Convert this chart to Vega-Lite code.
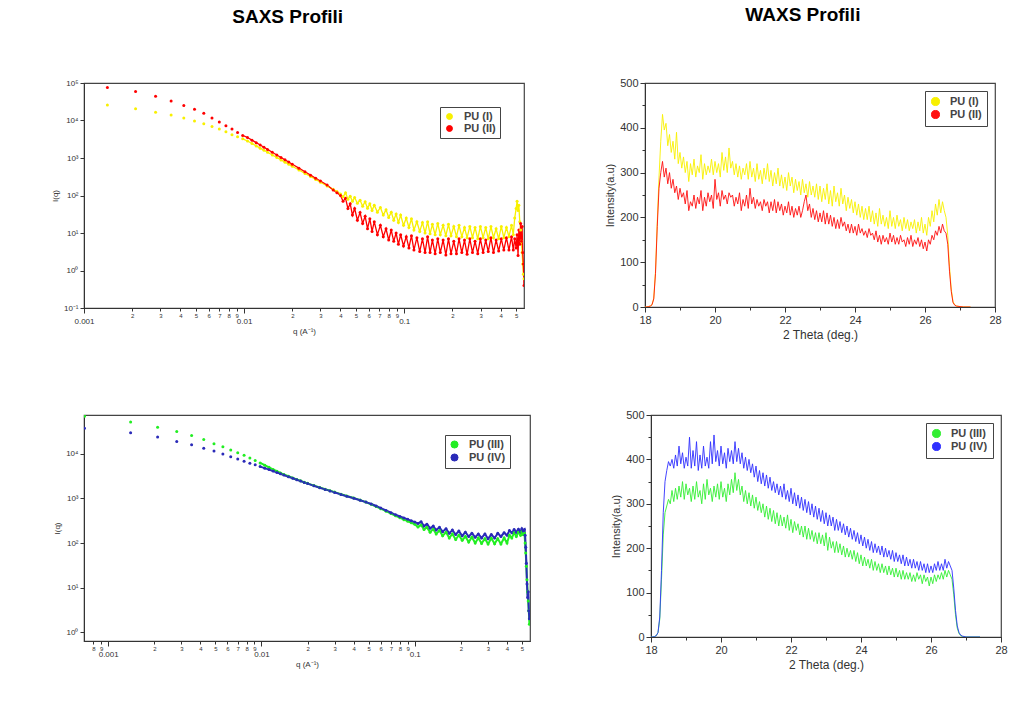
{
"$schema": "https://vega.github.io/schema/vega-lite/v6.json",
"padding": {"left": 50, "top": 5, "right": 5, "bottom": 5},
"background": "white",
"config": {"font": "Liberation Sans", "view": {"stroke": "#444", "strokeWidth": 1.2},
  "axis": {"grid": false, "domainColor": "#333", "tickColor": "#333", "labelColor": "#333", "titleColor": "#333", "titleFontWeight": "normal", "labelFont": "Liberation Sans", "titleFont": "Liberation Sans"},
  "legend": {"orient": "top-right", "strokeColor": "#444", "fillColor": "white", "padding": 4, "symbolType": "circle", "symbolSize": 45, "symbolStrokeWidth": 1, "labelFontSize": 11, "labelFontWeight": "bold", "labelFont": "Liberation Sans", "labelColor": "#444", "rowPadding": 0, "labelOffset": 9, "title": null}
},
"spacing": 67,
"resolve": {"scale": {"color": "independent"}, "legend": {"color": "independent"}},
"vconcat": [
{"hconcat": [
 {"width": 440, "height": 225,
  "title": {"text": "SAXS Profili", "fontSize": 19, "fontWeight": "bold", "font": "Liberation Sans", "anchor": "middle", "frame": "bounds", "offset": 52, "color": "black"},
  "data": {"values": [
   {"q":0.0014,"PU (I)":26000,"PU (II)":76000},{"q":0.0021,"PU (I)":20700,"PU (II)":59000},{"q":0.0028,"PU (I)":16500,"PU (II)":44000},{"q":0.0035,"PU (I)":14000,"PU (II)":33000},{"q":0.0042,"PU (I)":11600,"PU (II)":25000},{"q":0.0049,"PU (I)":9700,"PU (II)":20000},{"q":0.0056,"PU (I)":8200,"PU (II)":15600},{"q":0.0063,"PU (I)":6900,"PU (II)":11700},{"q":0.007,"PU (I)":5900,"PU (II)":9100},{"q":0.0077,"PU (I)":5000,"PU (II)":7300},{"q":0.0084,"PU (I)":4200,"PU (II)":5900},{"q":0.0091,"PU (I)":3700,"PU (II)":4800},{"q":0.0098,"PU (I)":3250,"PU (II)":4000},
   {"q":0.0105,"PU (I)":2845,"PU (II)":3530},{"q":0.0112,"PU (I)":2435,"PU (II)":2995},{"q":0.0119,"PU (I)":2105,"PU (II)":2566},{"q":0.0126,"PU (I)":1833,"PU (II)":2220},{"q":0.0133,"PU (I)":1610,"PU (II)":1934},{"q":0.014,"PU (I)":1422,"PU (II)":1696},{"q":0.015,"PU (I)":1205,"PU (II)":1422},{"q":0.016,"PU (I)":1031,"PU (II)":1206},{"q":0.017,"PU (I)":891,"PU (II)":1033},{"q":0.018,"PU (I)":776,"PU (II)":893},{"q":0.019,"PU (I)":681,"PU (II)":778},{"q":0.02,"PU (I)":602,"PU (II)":683},{"q":0.022,"PU (I)":479,"PU (II)":536},{"q":0.024,"PU (I)":388,"PU (II)":429},{"q":0.026,"PU (I)":320,"PU (II)":349},{"q":0.028,"PU (I)":268,"PU (II)":289},{"q":0.03,"PU (I)":226,"PU (II)":243},{"q":0.033,"PU (I)":180,"PU (II)":190},{"q":0.036,"PU (I)":146,"PU (II)":140},{"q":0.038,"PU (I)":128,"PU (II)":118},
   {"q":0.04,"PU (I)":110,"PU (II)":100},{"q":0.0415,"PU (I)":92,"PU (II)":70},{"q":0.043,"PU (I)":118,"PU (II)":85},{"q":0.0445,"PU (I)":80,"PU (II)":45},{"q":0.046,"PU (I)":95,"PU (II)":60},{"q":0.0475,"PU (I)":70,"PU (II)":30},{"q":0.049,"PU (I)":88,"PU (II)":45},{"q":0.051,"PU (I)":62,"PU (II)":22},{"q":0.053,"PU (I)":75,"PU (II)":35},{"q":0.055,"PU (I)":52,"PU (II)":18},{"q":0.057,"PU (I)":68,"PU (II)":28},{"q":0.059,"PU (I)":46,"PU (II)":13},{"q":0.061,"PU (I)":60,"PU (II)":24},{"q":0.063,"PU (I)":40,"PU (II)":11},{"q":0.065,"PU (I)":55,"PU (II)":20},{"q":0.068,"PU (I)":36,"PU (II)":9},{"q":0.071,"PU (I)":48,"PU (II)":16},{"q":0.074,"PU (I)":30,"PU (II)":8},{"q":0.077,"PU (I)":42,"PU (II)":13},{"q":0.08,"PU (I)":26,"PU (II)":6.5},{"q":0.083,"PU (I)":36,"PU (II)":12},{"q":0.086,"PU (I)":22,"PU (II)":6},{"q":0.089,"PU (I)":32,"PU (II)":10},{"q":0.092,"PU (I)":19,"PU (II)":5},{"q":0.095,"PU (I)":30,"PU (II)":9},{"q":0.099,"PU (I)":16,"PU (II)":4.5},{"q":0.103,"PU (I)":25,"PU (II)":8},{"q":0.107,"PU (I)":14,"PU (II)":4},{"q":0.111,"PU (I)":24,"PU (II)":8.5},{"q":0.115,"PU (I)":12,"PU (II)":3.5},{"q":0.12,"PU (I)":20,"PU (II)":7.5},{"q":0.125,"PU (I)":11,"PU (II)":3.2},{"q":0.13,"PU (I)":19,"PU (II)":7},{"q":0.135,"PU (I)":10,"PU (II)":3},{"q":0.14,"PU (I)":20,"PU (II)":8},{"q":0.145,"PU (I)":9.5,"PU (II)":3},{"q":0.15,"PU (I)":17,"PU (II)":6.5},{"q":0.156,"PU (I)":9,"PU (II)":2.8},{"q":0.162,"PU (I)":18,"PU (II)":7},{"q":0.168,"PU (I)":9,"PU (II)":3},{"q":0.175,"PU (I)":16,"PU (II)":6.5},{"q":0.182,"PU (I)":8.5,"PU (II)":2.6},{"q":0.189,"PU (I)":17,"PU (II)":7},{"q":0.196,"PU (I)":8.5,"PU (II)":2.8},{"q":0.204,"PU (I)":15,"PU (II)":6},{"q":0.212,"PU (I)":8,"PU (II)":2.8},{"q":0.22,"PU (I)":16,"PU (II)":7},{"q":0.229,"PU (I)":8,"PU (II)":3},{"q":0.238,"PU (I)":14,"PU (II)":6.5},{"q":0.247,"PU (I)":7.5,"PU (II)":2.7},{"q":0.257,"PU (I)":15,"PU (II)":7},{"q":0.267,"PU (I)":7.5,"PU (II)":3},{"q":0.277,"PU (I)":14,"PU (II)":6},{"q":0.288,"PU (I)":7,"PU (II)":2.8},{"q":0.299,"PU (I)":15,"PU (II)":7},{"q":0.311,"PU (I)":7.5,"PU (II)":3},{"q":0.323,"PU (I)":14,"PU (II)":6.5},{"q":0.335,"PU (I)":7,"PU (II)":3.2},{"q":0.348,"PU (I)":15,"PU (II)":7.5},{"q":0.361,"PU (I)":7.5,"PU (II)":3},{"q":0.375,"PU (I)":13,"PU (II)":6.5},{"q":0.389,"PU (I)":7,"PU (II)":3.3},{"q":0.404,"PU (I)":15,"PU (II)":7},{"q":0.419,"PU (I)":7.5,"PU (II)":3.5},{"q":0.435,"PU (I)":14,"PU (II)":7.5},{"q":0.451,"PU (I)":8,"PU (II)":3.5},{"q":0.468,"PU (I)":16,"PU (II)":8},{"q":0.48,"PU (I)":9,"PU (II)":3.5},{"q":0.49,"PU (I)":25,"PU (II)":7},{"q":0.5,"PU (I)":45,"PU (II)":4},{"q":0.507,"PU (I)":70,"PU (II)":9},{"q":0.514,"PU (I)":40,"PU (II)":2.5},{"q":0.52,"PU (I)":55,"PU (II)":12},{"q":0.527,"PU (I)":20,"PU (II)":5},{"q":0.534,"PU (I)":12,"PU (II)":18},{"q":0.54,"PU (I)":6,"PU (II)":6},{"q":0.545,"PU (I)":3,"PU (II)":15},{"q":0.55,"PU (I)":1.5,"PU (II)":3},{"q":0.555,"PU (I)":0.8,"PU (II)":1.5},{"q":0.56,"PU (I)":0.6,"PU (II)":0.4}
  ]},
  "transform": [{"fold": ["PU (I)", "PU (II)"], "as": ["series", "I"]}],
  "encoding": {
   "x": {"field": "q", "type": "quantitative", "scale": {"type": "log", "domain": [0.001, 0.56], "nice": false},
     "axis": {"title": "q (A⁻¹)", "titleFontSize": 8, "titlePadding": 2, "values": [0.001,0.002,0.003,0.004,0.005,0.006,0.007,0.008,0.009,0.01,0.02,0.03,0.04,0.05,0.06,0.07,0.08,0.09,0.1,0.2,0.3,0.4,0.5],
       "labelExpr": "datum.value==0.001?'0.001':datum.value==0.01?'0.01':datum.value==0.1?'0.1':format(datum.value/pow(10,floor(log(datum.value)/LN10+1e-9)),'d')",
       "labelFontSize": {"condition": {"test": "datum.value==0.001||datum.value==0.01||datum.value==0.1", "value": 8}, "value": 6},
       "labelPadding": {"condition": {"test": "datum.value==0.001||datum.value==0.01||datum.value==0.1", "value": 4}, "value": 1},
       "tickSize": {"condition": {"test": "datum.value==0.001||datum.value==0.01||datum.value==0.1", "value": 5}, "value": 3},
       "labelOverlap": false, "labelFlush": false, "labelBound": false}},
   "y": {"field": "I", "type": "quantitative", "scale": {"type": "log", "domain": [0.1, 100000], "nice": false},
     "axis": {"title": "I(q)", "titleFontSize": 8, "titlePadding": 4, "values": [0.1,1,10,100,1000,10000,100000], "labelFontSize": 8, "tickSize": 4, "labelOverlap": false,
       "labelExpr": "datum.value < 0.5 ? '10⁻¹' : datum.value < 5 ? '10⁰' : datum.value < 50 ? '10¹' : datum.value < 500 ? '10²' : datum.value < 5000 ? '10³' : datum.value < 50000 ? '10⁴' : '10⁵'"}},
   "color": {"field": "series", "type": "nominal", "scale": {"domain": ["PU (I)", "PU (II)"], "range": ["#f8f000", "#ff0000"]}, "legend": {"offset": 24, "symbolSize": 35}}
  },
  "layer": [
   {"transform": [{"filter": "datum.q >= 0.0098"}], "mark": {"type": "line", "strokeWidth": 1.3, "clip": true}},
   {"mark": {"type": "point", "filled": true, "size": 9, "opacity": 1, "clip": true}}
  ]
 },
 {"width": 350, "height": 224,
  "title": {"text": "WAXS Profili", "fontSize": 19, "fontWeight": "bold", "font": "Liberation Sans", "anchor": "middle", "frame": "bounds", "offset": 52, "color": "black"},
  "data": {"values": [
   {"t":18.0,"PU (I)":0,"PU (II)":0},{"t":18.05,"PU (I)":0,"PU (II)":0},{"t":18.1,"PU (I)":1,"PU (II)":1},{"t":18.15,"PU (I)":2,"PU (II)":2},{"t":18.2,"PU (I)":5,"PU (II)":5},{"t":18.25,"PU (I)":20,"PU (II)":18},{"t":18.3,"PU (I)":80,"PU (II)":75},{"t":18.35,"PU (I)":190,"PU (II)":180},{"t":18.4,"PU (I)":290,"PU (II)":265},{"t":18.45,"PU (I)":370,"PU (II)":300},{"t":18.5,"PU (I)":430,"PU (II)":325},{"t":18.55,"PU (I)":395,"PU (II)":290},{"t":18.6,"PU (I)":410,"PU (II)":310},{"t":18.65,"PU (I)":360,"PU (II)":275},{"t":18.7,"PU (I)":385,"PU (II)":300},{"t":18.75,"PU (I)":345,"PU (II)":265},{"t":18.8,"PU (I)":370,"PU (II)":285},{"t":18.85,"PU (I)":330,"PU (II)":255},{"t":18.9,"PU (I)":390,"PU (II)":270},{"t":18.95,"PU (I)":320,"PU (II)":240},
   {"t":19.0,"PU (I)":345,"PU (II)":265},{"t":19.05,"PU (I)":310,"PU (II)":245},{"t":19.1,"PU (I)":335,"PU (II)":255},{"t":19.15,"PU (I)":300,"PU (II)":230},{"t":19.2,"PU (I)":325,"PU (II)":260},{"t":19.25,"PU (I)":280,"PU (II)":215},{"t":19.3,"PU (I)":320,"PU (II)":235},{"t":19.35,"PU (I)":295,"PU (II)":225},{"t":19.4,"PU (I)":330,"PU (II)":250},{"t":19.45,"PU (I)":290,"PU (II)":220},{"t":19.5,"PU (I)":315,"PU (II)":245},{"t":19.55,"PU (I)":300,"PU (II)":230},{"t":19.6,"PU (I)":340,"PU (II)":260},{"t":19.65,"PU (I)":285,"PU (II)":215},{"t":19.7,"PU (I)":320,"PU (II)":245},{"t":19.75,"PU (I)":295,"PU (II)":225},{"t":19.8,"PU (I)":315,"PU (II)":255},{"t":19.85,"PU (I)":300,"PU (II)":235},{"t":19.9,"PU (I)":330,"PU (II)":250},{"t":19.95,"PU (I)":295,"PU (II)":220},
   {"t":20.0,"PU (I)":325,"PU (II)":285},{"t":20.05,"PU (I)":300,"PU (II)":240},{"t":20.1,"PU (I)":320,"PU (II)":255},{"t":20.15,"PU (I)":290,"PU (II)":225},{"t":20.2,"PU (I)":345,"PU (II)":260},{"t":20.25,"PU (I)":305,"PU (II)":240},{"t":20.3,"PU (I)":335,"PU (II)":250},{"t":20.35,"PU (I)":300,"PU (II)":230},{"t":20.4,"PU (I)":355,"PU (II)":255},{"t":20.45,"PU (I)":310,"PU (II)":245},{"t":20.5,"PU (I)":325,"PU (II)":250},{"t":20.55,"PU (I)":295,"PU (II)":225},{"t":20.6,"PU (I)":320,"PU (II)":245},{"t":20.65,"PU (I)":290,"PU (II)":230},{"t":20.7,"PU (I)":315,"PU (II)":255},{"t":20.75,"PU (I)":285,"PU (II)":215},{"t":20.8,"PU (I)":310,"PU (II)":240},{"t":20.85,"PU (I)":295,"PU (II)":225},{"t":20.9,"PU (I)":320,"PU (II)":250},{"t":20.95,"PU (I)":285,"PU (II)":220},
   {"t":21.0,"PU (I)":325,"PU (II)":265},{"t":21.05,"PU (I)":290,"PU (II)":230},{"t":21.1,"PU (I)":310,"PU (II)":245},{"t":21.15,"PU (I)":280,"PU (II)":220},{"t":21.2,"PU (I)":320,"PU (II)":240},{"t":21.25,"PU (I)":285,"PU (II)":225},{"t":21.3,"PU (I)":305,"PU (II)":235},{"t":21.35,"PU (I)":275,"PU (II)":215},{"t":21.4,"PU (I)":310,"PU (II)":240},{"t":21.45,"PU (I)":285,"PU (II)":225},{"t":21.5,"PU (I)":320,"PU (II)":235},{"t":21.55,"PU (I)":280,"PU (II)":210},{"t":21.6,"PU (I)":305,"PU (II)":235},{"t":21.65,"PU (I)":270,"PU (II)":215},{"t":21.7,"PU (I)":300,"PU (II)":240},{"t":21.75,"PU (I)":275,"PU (II)":210},{"t":21.8,"PU (I)":310,"PU (II)":235},{"t":21.85,"PU (I)":270,"PU (II)":215},{"t":21.9,"PU (I)":295,"PU (II)":230},{"t":21.95,"PU (I)":265,"PU (II)":205},
   {"t":22.0,"PU (I)":290,"PU (II)":225},{"t":22.05,"PU (I)":260,"PU (II)":210},{"t":22.1,"PU (I)":300,"PU (II)":235},{"t":22.15,"PU (I)":270,"PU (II)":205},{"t":22.2,"PU (I)":290,"PU (II)":225},{"t":22.25,"PU (I)":255,"PU (II)":200},{"t":22.3,"PU (I)":285,"PU (II)":220},{"t":22.35,"PU (I)":260,"PU (II)":205},{"t":22.4,"PU (I)":280,"PU (II)":225},{"t":22.45,"PU (I)":250,"PU (II)":200},{"t":22.5,"PU (I)":285,"PU (II)":215},{"t":22.55,"PU (I)":255,"PU (II)":235},{"t":22.6,"PU (I)":275,"PU (II)":250},{"t":22.65,"PU (I)":245,"PU (II)":215},{"t":22.7,"PU (I)":280,"PU (II)":230},{"t":22.75,"PU (I)":250,"PU (II)":200},{"t":22.8,"PU (I)":270,"PU (II)":220},{"t":22.85,"PU (I)":245,"PU (II)":195},{"t":22.9,"PU (I)":275,"PU (II)":215},{"t":22.95,"PU (I)":240,"PU (II)":190},
   {"t":23.0,"PU (I)":270,"PU (II)":210},{"t":23.05,"PU (I)":235,"PU (II)":190},{"t":23.1,"PU (I)":265,"PU (II)":215},{"t":23.15,"PU (I)":240,"PU (II)":185},{"t":23.2,"PU (I)":275,"PU (II)":210},{"t":23.25,"PU (I)":230,"PU (II)":185},{"t":23.3,"PU (I)":260,"PU (II)":205},{"t":23.35,"PU (I)":225,"PU (II)":180},{"t":23.4,"PU (I)":270,"PU (II)":200},{"t":23.45,"PU (I)":235,"PU (II)":175},{"t":23.5,"PU (I)":255,"PU (II)":195},{"t":23.55,"PU (I)":225,"PU (II)":175},{"t":23.6,"PU (I)":265,"PU (II)":200},{"t":23.65,"PU (I)":230,"PU (II)":180},{"t":23.7,"PU (I)":250,"PU (II)":190},{"t":23.75,"PU (I)":215,"PU (II)":170},{"t":23.8,"PU (I)":245,"PU (II)":185},{"t":23.85,"PU (I)":220,"PU (II)":165},{"t":23.9,"PU (I)":240,"PU (II)":185},{"t":23.95,"PU (I)":210,"PU (II)":165},
   {"t":24.0,"PU (I)":235,"PU (II)":180},{"t":24.05,"PU (I)":205,"PU (II)":160},{"t":24.1,"PU (I)":230,"PU (II)":185},{"t":24.15,"PU (I)":200,"PU (II)":165},{"t":24.2,"PU (I)":225,"PU (II)":175},{"t":24.25,"PU (I)":195,"PU (II)":160},{"t":24.3,"PU (I)":220,"PU (II)":170},{"t":24.35,"PU (I)":195,"PU (II)":155},{"t":24.4,"PU (I)":225,"PU (II)":175},{"t":24.45,"PU (I)":190,"PU (II)":160},{"t":24.5,"PU (I)":215,"PU (II)":165},{"t":24.55,"PU (I)":185,"PU (II)":150},{"t":24.6,"PU (I)":210,"PU (II)":170},{"t":24.65,"PU (I)":180,"PU (II)":145},{"t":24.7,"PU (I)":220,"PU (II)":160},{"t":24.75,"PU (I)":185,"PU (II)":140},{"t":24.8,"PU (I)":205,"PU (II)":160},{"t":24.85,"PU (I)":180,"PU (II)":145},{"t":24.9,"PU (I)":200,"PU (II)":155},{"t":24.95,"PU (I)":175,"PU (II)":140},
   {"t":25.0,"PU (I)":215,"PU (II)":165},{"t":25.05,"PU (I)":180,"PU (II)":145},{"t":25.1,"PU (I)":200,"PU (II)":160},{"t":25.15,"PU (I)":175,"PU (II)":140},{"t":25.2,"PU (I)":205,"PU (II)":155},{"t":25.25,"PU (I)":180,"PU (II)":140},{"t":25.3,"PU (I)":195,"PU (II)":160},{"t":25.35,"PU (I)":170,"PU (II)":145},{"t":25.4,"PU (I)":200,"PU (II)":150},{"t":25.45,"PU (I)":175,"PU (II)":135},{"t":25.5,"PU (I)":195,"PU (II)":155},{"t":25.55,"PU (I)":170,"PU (II)":140},{"t":25.6,"PU (I)":190,"PU (II)":160},{"t":25.65,"PU (I)":175,"PU (II)":135},{"t":25.7,"PU (I)":195,"PU (II)":150},{"t":25.75,"PU (I)":165,"PU (II)":140},{"t":25.8,"PU (I)":190,"PU (II)":155},{"t":25.85,"PU (I)":170,"PU (II)":135},{"t":25.9,"PU (I)":200,"PU (II)":150},{"t":25.95,"PU (I)":165,"PU (II)":130},
   {"t":26.0,"PU (I)":185,"PU (II)":145},{"t":26.05,"PU (I)":160,"PU (II)":125},{"t":26.1,"PU (I)":200,"PU (II)":150},{"t":26.15,"PU (I)":180,"PU (II)":140},{"t":26.2,"PU (I)":215,"PU (II)":160},{"t":26.25,"PU (I)":190,"PU (II)":150},{"t":26.3,"PU (I)":230,"PU (II)":170},{"t":26.35,"PU (I)":205,"PU (II)":160},{"t":26.4,"PU (I)":240,"PU (II)":180},{"t":26.45,"PU (I)":210,"PU (II)":165},{"t":26.5,"PU (I)":235,"PU (II)":185},{"t":26.55,"PU (I)":215,"PU (II)":170},{"t":26.6,"PU (I)":200,"PU (II)":165},{"t":26.65,"PU (I)":160,"PU (II)":140},{"t":26.7,"PU (I)":90,"PU (II)":80},{"t":26.75,"PU (I)":40,"PU (II)":35},{"t":26.8,"PU (I)":12,"PU (II)":10},{"t":26.85,"PU (I)":5,"PU (II)":4},{"t":26.9,"PU (I)":2,"PU (II)":2},{"t":27.0,"PU (I)":1,"PU (II)":1},{"t":27.1,"PU (I)":0,"PU (II)":0},{"t":27.3,"PU (I)":0,"PU (II)":0}
  ]},
  "transform": [{"fold": ["PU (I)", "PU (II)"], "as": ["series", "I"]}],
  "encoding": {
   "x": {"field": "t", "type": "quantitative", "scale": {"domain": [18, 28], "nice": false},
     "axis": {"title": "2 Theta (deg.)", "titleFontSize": 12, "titlePadding": 4, "labelFontSize": 11, "labelPadding": 2, "values": [18,19,20,21,22,23,24,25,26,27,28],
       "labelExpr": "datum.value % 2 == 0 ? datum.value : ''", "tickSize": {"condition": {"test": "datum.value % 2 == 0", "value": 5}, "value": 3}, "labelOverlap": false, "labelFlush": false}},
   "y": {"field": "I", "type": "quantitative", "scale": {"domain": [0, 500], "nice": false},
     "axis": {"title": "Intensity(a.u)", "titleFontSize": 11, "titlePadding": 4, "labelFontSize": 11, "labelPadding": 2, "values": [0,50,100,150,200,250,300,350,400,450,500],
       "labelExpr": "datum.value % 100 == 0 ? datum.value : ''", "tickSize": {"condition": {"test": "datum.value % 100 == 0", "value": 5}, "value": 3}, "labelOverlap": false}},
   "color": {"field": "series", "type": "nominal", "scale": {"domain": ["PU (I)", "PU (II)"], "range": ["#f8f000", "#ff1010"]}, "legend": {"offset": 8, "symbolSize": 65, "padding": 5}}
  },
  "layer": [
   {"mark": {"type": "line", "strokeWidth": 0.9, "clip": true}},
   {"mark": {"type": "point", "filled": true, "size": 0, "opacity": 1, "clip": true}}
  ]
 }
], "spacing": 79, "resolve": {"scale": {"color": "independent"}, "legend": {"color": "independent"}}},
{"hconcat": [
 {"width": 446, "height": 226,
  "data": {"values": [
   {"q":0.0007,"PU (III)":70000,"PU (IV)":38000},{"q":0.0014,"PU (III)":52000,"PU (IV)":30000},{"q":0.0021,"PU (III)":40000,"PU (IV)":24000},{"q":0.0028,"PU (III)":32000,"PU (IV)":19000},{"q":0.0035,"PU (III)":26000,"PU (IV)":16000},{"q":0.0042,"PU (III)":21000,"PU (IV)":13400},{"q":0.0049,"PU (III)":17000,"PU (IV)":11700},{"q":0.0056,"PU (III)":14600,"PU (IV)":10000},{"q":0.0063,"PU (III)":12300,"PU (IV)":8700},{"q":0.007,"PU (III)":10700,"PU (IV)":7700},{"q":0.0077,"PU (III)":9300,"PU (IV)":6900},{"q":0.0084,"PU (III)":8100,"PU (IV)":6200},{"q":0.0091,"PU (III)":7100,"PU (IV)":5700},{"q":0.0098,"PU (III)":6300,"PU (IV)":5200},
   {"q":0.0105,"PU (III)":5600,"PU (IV)":4800},{"q":0.0112,"PU (III)":5000,"PU (IV)":4450},{"q":0.0119,"PU (III)":4500,"PU (IV)":4150},{"q":0.0126,"PU (III)":4100,"PU (IV)":3850},{"q":0.0133,"PU (III)":3750,"PU (IV)":3600},{"q":0.014,"PU (III)":3450,"PU (IV)":3350},{"q":0.015,"PU (III)":3150,"PU (IV)":3080},{"q":0.016,"PU (III)":2900,"PU (IV)":2850},{"q":0.017,"PU (III)":2680,"PU (IV)":2640},{"q":0.018,"PU (III)":2490,"PU (IV)":2460},{"q":0.019,"PU (III)":2330,"PU (IV)":2300},{"q":0.02,"PU (III)":2190,"PU (IV)":2160},{"q":0.022,"PU (III)":1950,"PU (IV)":1920},{"q":0.024,"PU (III)":1760,"PU (IV)":1740},{"q":0.026,"PU (III)":1620,"PU (IV)":1600},{"q":0.028,"PU (III)":1500,"PU (IV)":1480},{"q":0.03,"PU (III)":1390,"PU (IV)":1370},{"q":0.033,"PU (III)":1250,"PU (IV)":1230},{"q":0.036,"PU (III)":1140,"PU (IV)":1120},{"q":0.04,"PU (III)":1030,"PU (IV)":1010},{"q":0.044,"PU (III)":920,"PU (IV)":910},{"q":0.048,"PU (III)":830,"PU (IV)":830},{"q":0.052,"PU (III)":740,"PU (IV)":750},{"q":0.056,"PU (III)":660,"PU (IV)":680},{"q":0.06,"PU (III)":590,"PU (IV)":610},{"q":0.065,"PU (III)":520,"PU (IV)":540},{"q":0.07,"PU (III)":460,"PU (IV)":480},{"q":0.075,"PU (III)":410,"PU (IV)":430},{"q":0.08,"PU (III)":370,"PU (IV)":395},{"q":0.085,"PU (III)":335,"PU (IV)":365},{"q":0.09,"PU (III)":310,"PU (IV)":340},{"q":0.095,"PU (III)":285,"PU (IV)":315},{"q":0.1,"PU (III)":265,"PU (IV)":295},
   {"q":0.105,"PU (III)":230,"PU (IV)":275},{"q":0.11,"PU (III)":255,"PU (IV)":300},{"q":0.115,"PU (III)":200,"PU (IV)":240},{"q":0.12,"PU (III)":225,"PU (IV)":265},{"q":0.126,"PU (III)":175,"PU (IV)":215},{"q":0.132,"PU (III)":205,"PU (IV)":240},{"q":0.138,"PU (III)":160,"PU (IV)":195},{"q":0.145,"PU (III)":190,"PU (IV)":225},{"q":0.152,"PU (III)":145,"PU (IV)":180},{"q":0.16,"PU (III)":175,"PU (IV)":210},{"q":0.168,"PU (III)":130,"PU (IV)":165},{"q":0.176,"PU (III)":160,"PU (IV)":195},{"q":0.185,"PU (III)":120,"PU (IV)":155},{"q":0.194,"PU (III)":150,"PU (IV)":185},{"q":0.204,"PU (III)":115,"PU (IV)":145},{"q":0.214,"PU (III)":140,"PU (IV)":175},{"q":0.225,"PU (III)":105,"PU (IV)":140},{"q":0.236,"PU (III)":135,"PU (IV)":165},{"q":0.248,"PU (III)":100,"PU (IV)":135},{"q":0.26,"PU (III)":130,"PU (IV)":160},{"q":0.273,"PU (III)":98,"PU (IV)":130},{"q":0.287,"PU (III)":125,"PU (IV)":160},{"q":0.301,"PU (III)":95,"PU (IV)":125},{"q":0.316,"PU (III)":128,"PU (IV)":155},{"q":0.332,"PU (III)":96,"PU (IV)":130},{"q":0.348,"PU (III)":125,"PU (IV)":165},{"q":0.365,"PU (III)":95,"PU (IV)":140},{"q":0.383,"PU (III)":130,"PU (IV)":170},{"q":0.4,"PU (III)":100,"PU (IV)":150},{"q":0.415,"PU (III)":150,"PU (IV)":190},{"q":0.43,"PU (III)":130,"PU (IV)":170},{"q":0.445,"PU (III)":170,"PU (IV)":200},{"q":0.46,"PU (III)":140,"PU (IV)":175},{"q":0.475,"PU (III)":175,"PU (IV)":205},{"q":0.49,"PU (III)":150,"PU (IV)":180},{"q":0.5,"PU (III)":180,"PU (IV)":210},{"q":0.51,"PU (III)":155,"PU (IV)":185},{"q":0.52,"PU (III)":165,"PU (IV)":200},{"q":0.525,"PU (III)":100,"PU (IV)":150},{"q":0.53,"PU (III)":60,"PU (IV)":80},{"q":0.535,"PU (III)":30,"PU (IV)":35},{"q":0.54,"PU (III)":15,"PU (IV)":12},{"q":0.545,"PU (III)":8,"PU (IV)":6},{"q":0.55,"PU (III)":5,"PU (IV)":8},{"q":0.555,"PU (III)":3,"PU (IV)":3},{"q":0.56,"PU (III)":1.5,"PU (IV)":2}
  ]},
  "transform": [{"fold": ["PU (III)", "PU (IV)"], "as": ["series", "I"]}],
  "encoding": {
   "x": {"field": "q", "type": "quantitative", "scale": {"type": "log", "domain": [0.000695, 0.565], "nice": false},
     "axis": {"title": "q (A⁻¹)", "titleFontSize": 8, "titlePadding": 2, "values": [0.0008,0.0009,0.001,0.002,0.003,0.004,0.005,0.006,0.007,0.008,0.009,0.01,0.02,0.03,0.04,0.05,0.06,0.07,0.08,0.09,0.1,0.2,0.3,0.4,0.5],
       "labelExpr": "datum.value==0.001?'0.001':datum.value==0.01?'0.01':datum.value==0.1?'0.1':format(datum.value/pow(10,floor(log(datum.value)/LN10+1e-9)),'d')",
       "labelFontSize": {"condition": {"test": "datum.value==0.001||datum.value==0.01||datum.value==0.1", "value": 8}, "value": 6},
       "labelPadding": {"condition": {"test": "datum.value==0.001||datum.value==0.01||datum.value==0.1", "value": 4}, "value": 1},
       "tickSize": {"condition": {"test": "datum.value==0.001||datum.value==0.01||datum.value==0.1", "value": 5}, "value": 3},
       "labelOverlap": false, "labelFlush": false, "labelBound": false}},
   "y": {"field": "I", "type": "quantitative", "scale": {"type": "log", "domain": [0.63, 75000], "nice": false},
     "axis": {"title": "I(q)", "titleFontSize": 8, "titlePadding": 4, "values": [1,10,100,1000,10000], "labelFontSize": 8, "tickSize": 4, "labelOverlap": false,
       "labelExpr": "datum.value < 5 ? '10⁰' : datum.value < 50 ? '10¹' : datum.value < 500 ? '10²' : datum.value < 5000 ? '10³' : '10⁴'"}},
   "color": {"field": "series", "type": "nominal", "scale": {"domain": ["PU (III)", "PU (IV)"], "range": ["#22ee22", "#2a2ab8"]}, "legend": {"offset": 20, "symbolSize": 50}}
  },
  "layer": [
   {"transform": [{"filter": "datum.q >= 0.0098"}], "mark": {"type": "line", "strokeWidth": 2, "clip": true}},
   {"mark": {"type": "point", "filled": true, "size": 9, "opacity": 1, "clip": true}}
  ]
 },
 {"width": 350, "height": 222,
  "data": {"values": [
   {"t":18.0,"PU (III)":0,"PU (IV)":0},{"t":18.05,"PU (III)":0,"PU (IV)":0},{"t":18.1,"PU (III)":1,"PU (IV)":1},{"t":18.15,"PU (III)":3,"PU (IV)":3},{"t":18.2,"PU (III)":10,"PU (IV)":10},{"t":18.25,"PU (III)":40,"PU (IV)":45},{"t":18.3,"PU (III)":130,"PU (IV)":150},{"t":18.35,"PU (III)":230,"PU (IV)":280},{"t":18.4,"PU (III)":280,"PU (IV)":350},{"t":18.45,"PU (III)":295,"PU (IV)":375},{"t":18.5,"PU (III)":310,"PU (IV)":395},{"t":18.55,"PU (III)":300,"PU (IV)":385},{"t":18.6,"PU (III)":330,"PU (IV)":400},{"t":18.65,"PU (III)":305,"PU (IV)":380},{"t":18.7,"PU (III)":335,"PU (IV)":410},{"t":18.75,"PU (III)":310,"PU (IV)":385},{"t":18.8,"PU (III)":340,"PU (IV)":430},{"t":18.85,"PU (III)":315,"PU (IV)":390},{"t":18.9,"PU (III)":350,"PU (IV)":415},{"t":18.95,"PU (III)":310,"PU (IV)":380},
   {"t":19.0,"PU (III)":345,"PU (IV)":405},{"t":19.05,"PU (III)":320,"PU (IV)":385},{"t":19.1,"PU (III)":335,"PU (IV)":450},{"t":19.15,"PU (III)":305,"PU (IV)":380},{"t":19.2,"PU (III)":340,"PU (IV)":420},{"t":19.25,"PU (III)":310,"PU (IV)":385},{"t":19.3,"PU (III)":350,"PU (IV)":440},{"t":19.35,"PU (III)":315,"PU (IV)":375},{"t":19.4,"PU (III)":330,"PU (IV)":410},{"t":19.45,"PU (III)":300,"PU (IV)":380},{"t":19.5,"PU (III)":345,"PU (IV)":430},{"t":19.55,"PU (III)":310,"PU (IV)":385},{"t":19.6,"PU (III)":355,"PU (IV)":405},{"t":19.65,"PU (III)":320,"PU (IV)":380},{"t":19.7,"PU (III)":335,"PU (IV)":440},{"t":19.75,"PU (III)":305,"PU (IV)":390},{"t":19.8,"PU (III)":340,"PU (IV)":455},{"t":19.85,"PU (III)":315,"PU (IV)":395},{"t":19.9,"PU (III)":345,"PU (IV)":420},{"t":19.95,"PU (III)":310,"PU (IV)":385},
   {"t":20.0,"PU (III)":350,"PU (IV)":430},{"t":20.05,"PU (III)":315,"PU (IV)":390},{"t":20.1,"PU (III)":335,"PU (IV)":415},{"t":20.15,"PU (III)":305,"PU (IV)":380},{"t":20.2,"PU (III)":345,"PU (IV)":425},{"t":20.25,"PU (III)":320,"PU (IV)":395},{"t":20.3,"PU (III)":355,"PU (IV)":420},{"t":20.35,"PU (III)":325,"PU (IV)":390},{"t":20.4,"PU (III)":370,"PU (IV)":440},{"t":20.45,"PU (III)":330,"PU (IV)":395},{"t":20.5,"PU (III)":355,"PU (IV)":425},{"t":20.55,"PU (III)":320,"PU (IV)":390},{"t":20.6,"PU (III)":340,"PU (IV)":415},{"t":20.65,"PU (III)":305,"PU (IV)":380},{"t":20.7,"PU (III)":330,"PU (IV)":405},{"t":20.75,"PU (III)":300,"PU (IV)":375},{"t":20.8,"PU (III)":325,"PU (IV)":400},{"t":20.85,"PU (III)":295,"PU (IV)":370},{"t":20.9,"PU (III)":320,"PU (IV)":390},{"t":20.95,"PU (III)":290,"PU (IV)":360},
   {"t":21.0,"PU (III)":315,"PU (IV)":385},{"t":21.05,"PU (III)":285,"PU (IV)":350},{"t":21.1,"PU (III)":305,"PU (IV)":375},{"t":21.15,"PU (III)":280,"PU (IV)":345},{"t":21.2,"PU (III)":300,"PU (IV)":370},{"t":21.25,"PU (III)":270,"PU (IV)":340},{"t":21.3,"PU (III)":295,"PU (IV)":365},{"t":21.35,"PU (III)":265,"PU (IV)":335},{"t":21.4,"PU (III)":290,"PU (IV)":360},{"t":21.45,"PU (III)":260,"PU (IV)":330},{"t":21.5,"PU (III)":285,"PU (IV)":350},{"t":21.55,"PU (III)":255,"PU (IV)":325},{"t":21.6,"PU (III)":280,"PU (IV)":345},{"t":21.65,"PU (III)":250,"PU (IV)":320},{"t":21.7,"PU (III)":275,"PU (IV)":340},{"t":21.75,"PU (III)":250,"PU (IV)":315},{"t":21.8,"PU (III)":270,"PU (IV)":345},{"t":21.85,"PU (III)":245,"PU (IV)":310},{"t":21.9,"PU (III)":275,"PU (IV)":330},{"t":21.95,"PU (III)":240,"PU (IV)":305},
   {"t":22.0,"PU (III)":265,"PU (IV)":335},{"t":22.05,"PU (III)":235,"PU (IV)":300},{"t":22.1,"PU (III)":260,"PU (IV)":325},{"t":22.15,"PU (III)":240,"PU (IV)":295},{"t":22.2,"PU (III)":255,"PU (IV)":320},{"t":22.25,"PU (III)":230,"PU (IV)":290},{"t":22.3,"PU (III)":250,"PU (IV)":315},{"t":22.35,"PU (III)":225,"PU (IV)":285},{"t":22.4,"PU (III)":250,"PU (IV)":310},{"t":22.45,"PU (III)":220,"PU (IV)":280},{"t":22.5,"PU (III)":245,"PU (IV)":305},{"t":22.55,"PU (III)":220,"PU (IV)":275},{"t":22.6,"PU (III)":240,"PU (IV)":300},{"t":22.65,"PU (III)":215,"PU (IV)":270},{"t":22.7,"PU (III)":235,"PU (IV)":295},{"t":22.75,"PU (III)":210,"PU (IV)":265},{"t":22.8,"PU (III)":235,"PU (IV)":290},{"t":22.85,"PU (III)":210,"PU (IV)":260},{"t":22.9,"PU (III)":230,"PU (IV)":285},{"t":22.95,"PU (III)":205,"PU (IV)":255},
   {"t":23.0,"PU (III)":235,"PU (IV)":280},{"t":23.05,"PU (III)":195,"PU (IV)":250},{"t":23.1,"PU (III)":225,"PU (IV)":275},{"t":23.15,"PU (III)":200,"PU (IV)":250},{"t":23.2,"PU (III)":215,"PU (IV)":270},{"t":23.25,"PU (III)":190,"PU (IV)":240},{"t":23.3,"PU (III)":215,"PU (IV)":265},{"t":23.35,"PU (III)":190,"PU (IV)":240},{"t":23.4,"PU (III)":210,"PU (IV)":260},{"t":23.45,"PU (III)":185,"PU (IV)":235},{"t":23.5,"PU (III)":205,"PU (IV)":255},{"t":23.55,"PU (III)":180,"PU (IV)":230},{"t":23.6,"PU (III)":200,"PU (IV)":250},{"t":23.65,"PU (III)":180,"PU (IV)":225},{"t":23.7,"PU (III)":195,"PU (IV)":245},{"t":23.75,"PU (III)":175,"PU (IV)":220},{"t":23.8,"PU (III)":195,"PU (IV)":240},{"t":23.85,"PU (III)":170,"PU (IV)":215},{"t":23.9,"PU (III)":190,"PU (IV)":235},{"t":23.95,"PU (III)":165,"PU (IV)":210},
   {"t":24.0,"PU (III)":185,"PU (IV)":230},{"t":24.05,"PU (III)":160,"PU (IV)":205},{"t":24.1,"PU (III)":180,"PU (IV)":225},{"t":24.15,"PU (III)":160,"PU (IV)":200},{"t":24.2,"PU (III)":175,"PU (IV)":220},{"t":24.25,"PU (III)":155,"PU (IV)":195},{"t":24.3,"PU (III)":175,"PU (IV)":215},{"t":24.35,"PU (III)":150,"PU (IV)":190},{"t":24.4,"PU (III)":170,"PU (IV)":210},{"t":24.45,"PU (III)":150,"PU (IV)":190},{"t":24.5,"PU (III)":165,"PU (IV)":205},{"t":24.55,"PU (III)":145,"PU (IV)":185},{"t":24.6,"PU (III)":165,"PU (IV)":205},{"t":24.65,"PU (III)":145,"PU (IV)":180},{"t":24.7,"PU (III)":160,"PU (IV)":200},{"t":24.75,"PU (III)":140,"PU (IV)":180},{"t":24.8,"PU (III)":160,"PU (IV)":195},{"t":24.85,"PU (III)":140,"PU (IV)":175},{"t":24.9,"PU (III)":155,"PU (IV)":195},{"t":24.95,"PU (III)":135,"PU (IV)":170},
   {"t":25.0,"PU (III)":155,"PU (IV)":190},{"t":25.05,"PU (III)":135,"PU (IV)":170},{"t":25.1,"PU (III)":150,"PU (IV)":185},{"t":25.15,"PU (III)":130,"PU (IV)":165},{"t":25.2,"PU (III)":150,"PU (IV)":185},{"t":25.25,"PU (III)":130,"PU (IV)":160},{"t":25.3,"PU (III)":145,"PU (IV)":180},{"t":25.35,"PU (III)":130,"PU (IV)":160},{"t":25.4,"PU (III)":145,"PU (IV)":175},{"t":25.45,"PU (III)":125,"PU (IV)":155},{"t":25.5,"PU (III)":140,"PU (IV)":175},{"t":25.55,"PU (III)":125,"PU (IV)":155},{"t":25.6,"PU (III)":145,"PU (IV)":170},{"t":25.65,"PU (III)":130,"PU (IV)":150},{"t":25.7,"PU (III)":140,"PU (IV)":170},{"t":25.75,"PU (III)":120,"PU (IV)":150},{"t":25.8,"PU (III)":140,"PU (IV)":165},{"t":25.85,"PU (III)":125,"PU (IV)":145},{"t":25.9,"PU (III)":135,"PU (IV)":165},{"t":25.95,"PU (III)":115,"PU (IV)":145},
   {"t":26.0,"PU (III)":135,"PU (IV)":160},{"t":26.05,"PU (III)":120,"PU (IV)":145},{"t":26.1,"PU (III)":140,"PU (IV)":165},{"t":26.15,"PU (III)":125,"PU (IV)":150},{"t":26.2,"PU (III)":140,"PU (IV)":170},{"t":26.25,"PU (III)":130,"PU (IV)":150},{"t":26.3,"PU (III)":145,"PU (IV)":165},{"t":26.35,"PU (III)":130,"PU (IV)":150},{"t":26.4,"PU (III)":150,"PU (IV)":175},{"t":26.45,"PU (III)":135,"PU (IV)":155},{"t":26.5,"PU (III)":150,"PU (IV)":170},{"t":26.55,"PU (III)":140,"PU (IV)":160},{"t":26.6,"PU (III)":130,"PU (IV)":150},{"t":26.65,"PU (III)":95,"PU (IV)":110},{"t":26.7,"PU (III)":50,"PU (IV)":60},{"t":26.75,"PU (III)":20,"PU (IV)":25},{"t":26.8,"PU (III)":8,"PU (IV)":10},{"t":26.85,"PU (III)":3,"PU (IV)":4},{"t":26.9,"PU (III)":1,"PU (IV)":2},{"t":27.0,"PU (III)":0,"PU (IV)":0},{"t":27.4,"PU (III)":0,"PU (IV)":0}
  ]},
  "transform": [{"fold": ["PU (III)", "PU (IV)"], "as": ["series", "I"]}],
  "encoding": {
   "x": {"field": "t", "type": "quantitative", "scale": {"domain": [18, 28], "nice": false},
     "axis": {"title": "2 Theta (deg.)", "titleFontSize": 12, "titlePadding": 4, "labelFontSize": 11, "labelPadding": 2, "values": [18,19,20,21,22,23,24,25,26,27,28],
       "labelExpr": "datum.value % 2 == 0 ? datum.value : ''", "tickSize": {"condition": {"test": "datum.value % 2 == 0", "value": 5}, "value": 3}, "labelOverlap": false, "labelFlush": false}},
   "y": {"field": "I", "type": "quantitative", "scale": {"domain": [0, 500], "nice": false},
     "axis": {"title": "Intensity(a.u)", "titleFontSize": 11, "titlePadding": 4, "labelFontSize": 11, "labelPadding": 2, "values": [0,50,100,150,200,250,300,350,400,450,500],
       "labelExpr": "datum.value % 100 == 0 ? datum.value : ''", "tickSize": {"condition": {"test": "datum.value % 100 == 0", "value": 5}, "value": 3}, "labelOverlap": false}},
   "color": {"field": "series", "type": "nominal", "scale": {"domain": ["PU (III)", "PU (IV)"], "range": ["#33ee33", "#3030ff"]}, "legend": {"offset": 8, "symbolSize": 65, "padding": 5}}
  },
  "layer": [
   {"mark": {"type": "line", "strokeWidth": 0.9, "clip": true}},
   {"mark": {"type": "point", "filled": true, "size": 0, "opacity": 1, "clip": true}}
  ]
 }
], "spacing": 79, "resolve": {"scale": {"color": "independent"}, "legend": {"color": "independent"}}}
]
}
